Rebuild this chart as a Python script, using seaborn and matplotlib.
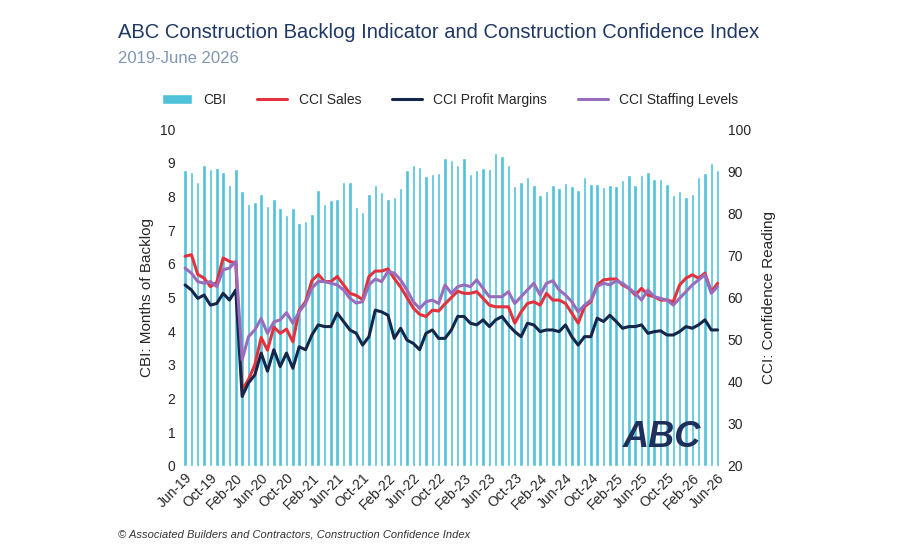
import numpy as np
import pandas as pd
import seaborn as sns
import matplotlib.pyplot as plt

# Monthly data, Jun-19 .. Jun-26
months = pd.date_range("2019-06-01", "2026-06-01", freq="MS").strftime("%b-%y").tolist()

cbi = [8.80, 8.73, 8.44, 8.93, 8.83, 8.85, 8.73, 8.34, 8.83, 8.17,
       7.77, 7.84, 8.07, 7.72, 7.94, 7.65, 7.45, 7.65, 7.20, 7.28,
       7.48, 8.19, 7.77, 7.89, 7.94, 8.44, 8.44, 7.68, 7.53, 8.09,
       8.34, 8.14, 7.94, 7.99, 8.24, 8.78, 8.93, 8.88, 8.60, 8.66,
       8.70, 9.16, 9.10, 8.93, 9.15, 8.66, 8.80, 8.86, 8.83, 9.30,
       9.21, 8.95, 8.32, 8.44, 8.57, 8.34, 8.04, 8.17, 8.33, 8.26,
       8.39, 8.31, 8.19, 8.59, 8.37, 8.37, 8.27, 8.34, 8.31, 8.49,
       8.64, 8.33, 8.65, 8.73, 8.51, 8.51, 8.37, 8.04, 8.16, 7.98,
       8.09, 8.59, 8.71, 9.01, 8.80]

cci_sales = [69.8, 70.2, 65.5, 64.6, 62.6, 63.6, 69.4, 68.6, 68.2,
             38.0, 40.5, 44.0, 50.5, 47.5, 53.0, 51.5, 52.5, 49.5, 57.0,
             59.0, 64.0, 65.5, 63.8, 63.8, 65.0, 63.0, 61.0, 60.5, 59.5,
             65.0, 66.3, 66.3, 66.8, 64.5, 62.5, 60.0, 57.5, 56.0, 55.5,
             57.0, 56.8, 58.5, 60.0, 61.5, 61.0,
             61.0, 61.4, 59.8, 58.2, 57.8, 57.8, 57.8, 53.9, 56.6, 58.6,
             59.0, 58.2, 61.0, 59.4, 59.4, 58.6, 56.3, 53.9, 57.8, 59.0,
             63.0, 64.2, 64.4, 64.4, 63.0, 62.2, 60.6, 62.2, 60.6, 60.2,
             59.4, 59.4, 59.0, 63.0, 64.6, 65.4, 64.6, 65.8, 61.4, 63.4]

cci_profit = [63.0, 61.8, 59.8, 60.6, 58.2, 58.6, 61.0, 59.4, 61.8,
              36.5, 39.7, 41.6, 46.8, 42.5, 47.6, 43.6, 46.8, 43.2, 48.3,
              47.6, 51.1, 53.5, 53.1, 53.1, 56.3, 54.3, 52.3, 51.5, 48.7,
              50.7, 57.0, 56.6, 55.8, 50.3, 52.7, 49.9, 49.1, 47.6, 51.5,
              52.3, 50.3, 50.3, 52.3, 55.5, 55.5,
              53.9, 53.5, 54.7, 53.1, 54.7, 55.5, 53.5, 51.9, 50.7, 53.9,
              53.5, 51.9, 52.3, 52.3, 51.9, 53.5, 50.7, 48.7, 50.7, 50.7,
              55.1, 54.3, 55.8, 54.3, 52.7, 53.1, 53.1, 53.5, 51.5, 51.9,
              52.1, 51.1, 51.1, 51.9, 53.1, 52.7, 53.5, 54.7, 52.3, 52.3]

cci_staffing = [67.0, 65.8, 63.8, 63.4, 63.8, 62.6, 66.6, 67.0, 68.6,
                45.2, 50.7, 52.3, 55.0, 51.5, 54.2, 54.7, 56.4, 53.9, 56.6,
                58.6, 62.2, 63.8, 63.8, 63.4, 63.0, 61.8, 59.8, 58.7, 59.0,
                63.0, 64.4, 63.8, 66.2, 65.8, 64.2, 61.8, 59.0, 57.4, 59.0,
                59.4, 58.6, 63.0, 61.0, 62.6, 63.0,
                62.6, 64.2, 62.2, 60.2, 60.2, 60.2, 61.4, 58.6, 60.2, 61.8,
                63.4, 60.6, 63.4, 64.0, 61.8, 60.6, 59.0, 56.6, 58.2, 59.4,
                62.6, 63.4, 63.0, 64.0, 63.4, 62.2, 61.0, 59.4, 61.8, 60.2,
                59.8, 59.4, 58.2, 59.8, 61.4, 63.0, 64.2, 65.4, 61.0, 62.6]

df = pd.DataFrame({"month": months, "CBI": cbi, "CCI Sales": cci_sales,
                   "CCI Profit Margins": cci_profit, "CCI Staffing Levels": cci_staffing})
df["idx"] = np.arange(len(df))

bar_c = "#4fc1d9"
line_c = {"CCI Sales": "#e3323e", "CCI Profit Margins": "#14264a",
          "CCI Staffing Levels": "#9a6cbc"}

sns.set_style("white")
plt.rcParams["font.family"] = ["Liberation Sans", "DejaVu Sans"]

fig = plt.figure(figsize=(9, 5.5), dpi=100)
ax = fig.add_axes([0.2, 0.153, 0.603, 0.612])

sns.barplot(data=df, x="idx", y="CBI", color=bar_c, width=0.55, ax=ax,
            saturation=1, label="CBI")
ax.set_ylim(0, 10)
ax.set_xlim(-0.8, 84.8)
ax.set_yticks(range(0, 11))
ax.set_ylabel("CBI: Months of Backlog", fontsize=11)
ax.set_xlabel("")
ax.set_xticks(range(0, 85, 4))
ax.set_xticklabels(months[::4], rotation=45, ha="right", rotation_mode="anchor", fontsize=10)
ax.tick_params(axis="y", labelsize=10, length=0)
ax.tick_params(axis="x", length=0)

ax2 = ax.twinx()
for col in ["CCI Sales", "CCI Profit Margins", "CCI Staffing Levels"]:
    sns.lineplot(data=df, x="idx", y=col, color=line_c[col], lw=2.2, ax=ax2, label=col)
ax2.set_ylim(20, 100)
ax2.set_yticks(range(20, 101, 10))
ax2.set_ylabel("CCI: Confidence Reading", fontsize=11, labelpad=8)
ax2.tick_params(axis="y", labelsize=10, length=0)

h1, l1 = ax.get_legend_handles_labels()
h2, l2 = ax2.get_legend_handles_labels()
for a in (ax, ax2):
    if a.get_legend() is not None:
        a.get_legend().remove()
    for s in a.spines.values():
        s.set_visible(False)

fig.legend(h1 + h2, l1 + l2, loc="center", bbox_to_anchor=(0.5, 0.818), ncol=4,
           frameon=False, fontsize=10, handlelength=2.2, columnspacing=2.2)

fig.text(0.131, 0.94, "ABC Construction Backlog Indicator and Construction Confidence Index",
         fontsize=14.5, color="#1f3864", va="center")
fig.text(0.131, 0.893, "2019-June 2026", fontsize=12, color="#7f97b2", va="center")
fig.text(0.131, 0.028, "\u00a9 Associated Builders and Contractors, Construction Confidence Index",
         fontsize=8, style="italic", color="#333333", va="center")
fig.text(0.735, 0.205, "ABC", fontsize=26, weight="bold", style="italic", color="#1f2f5c",
         ha="center", va="center")

fig.savefig("out.png", dpi=100)
